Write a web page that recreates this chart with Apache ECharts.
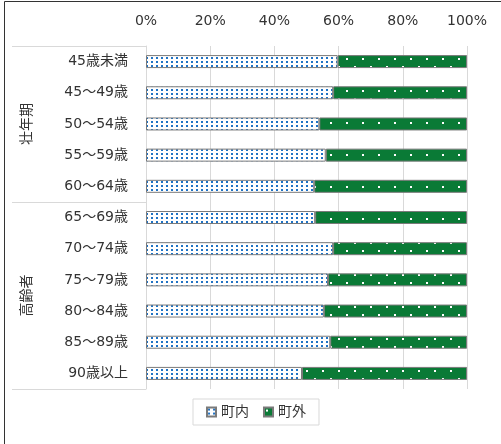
<!DOCTYPE html>
<html>
<head>
<meta charset="utf-8">
<script src="https://cdn.jsdelivr.net/npm/echarts@6/dist/echarts.min.js"></script>
<style>
html,body{margin:0;padding:0;background:#fff;}
#c{width:501px;height:444px;}
</style>
</head>
<body>
<div id="c"></div>
<script>
var categories = ['45歳未満','45～49歳','50～54歳','55～59歳','60～64歳','65～69歳','70～74歳','75～79歳','80～84歳','85～89歳','90歳以上'];
var groups = [{name:'壮年期', from:0, to:4},{name:'高齢者', from:5, to:10}];
var seriesNames = ['町内','町外'];
var inTown  = [59.7, 58.3, 54.0, 56.0, 52.4, 52.7, 58.3, 56.7, 55.4, 57.4, 48.6];
var outTown = [40.3, 41.7, 46.0, 44.0, 47.6, 47.3, 41.7, 43.3, 44.6, 42.6, 51.4];
var xTicks = [0, 20, 40, 60, 80, 100];

function makePattern(w, h, bg, fg, dots) {
  var cv = document.createElement('canvas');
  cv.width = w; cv.height = h;
  var ctx = cv.getContext('2d');
  ctx.fillStyle = bg; ctx.fillRect(0, 0, w, h);
  ctx.fillStyle = fg;
  dots.forEach(function (d) { ctx.fillRect(d[0], d[1], d[2], d[3]); });
  return {image: cv, repeat: 'repeat'};
}
var bluePat = makePattern(5, 4, '#ffffff', '#1f72c4', [[1, 1, 2, 2]]);
var greenPat = makePattern(16, 16, '#0a7a36', '#ffffff', [[2, 2, 2, 2], [10, 10, 2, 2]]);

var FONT = '"DejaVu Sans", "Noto Sans CJK JP", sans-serif';
var TXT = '#333333';
var LINE = '#d9d9d9';

var chart = echarts.init(document.getElementById('c'), null, {renderer: 'canvas'});
var option = {
  animation: false,
  backgroundColor: '#fff',
  textStyle: {fontFamily: FONT},
  grid: {left: 146, right: 34, top: 46, bottom: 55, containLabel: false},
  xAxis: {
    type: 'value', position: 'top', min: xTicks[0], max: xTicks[xTicks.length - 1], interval: 20,
    axisLine: {show: false}, axisTick: {show: false},
    axisLabel: {formatter: '{value}%', color: TXT, fontSize: 14, margin: 18, fontFamily: FONT},
    splitLine: {lineStyle: {color: LINE, width: 1}}
  },
  yAxis: {
    type: 'category', data: categories, inverse: true,
    axisLine: {show: true, lineStyle: {color: LINE}},
    axisTick: {show: false},
    axisLabel: {color: TXT, fontSize: 14, margin: 18, fontFamily: FONT}
  },
  legend: {
    data: seriesNames, bottom: 19, left: 193,
    itemWidth: 9, itemHeight: 9, itemGap: 14,
    borderColor: LINE, borderWidth: 1, padding: [6, 13, 6, 13],
    textStyle: {color: TXT, fontSize: 14, fontFamily: FONT}, icon: 'rect'
  },
  series: [
    {name: seriesNames[0], type: 'bar', stack: 't', data: inTown, barWidth: 13,
     itemStyle: {color: bluePat, borderColor: '#7a7a7a', borderWidth: 1}},
    {name: seriesNames[1], type: 'bar', stack: 't', data: outTown, barWidth: 13,
     itemStyle: {color: greenPat, borderColor: '#7a7a7a', borderWidth: 1}}
  ]
};
chart.setOption(option);

// decorative label-table lines and group labels
var band = chart.convertToPixel({yAxisIndex: 0}, categories[1]) - chart.convertToPixel({yAxisIndex: 0}, categories[0]);
var x0 = 12, x1 = 146;
var gfx = [];
var edges = [];
groups.forEach(function (g, i) {
  var top = chart.convertToPixel({yAxisIndex: 0}, categories[g.from]) - band / 2;
  var bot = chart.convertToPixel({yAxisIndex: 0}, categories[g.to]) + band / 2;
  if (i === 0) edges.push(top);
  edges.push(bot);
  gfx.push({type: 'text', x: 27, y: (top + bot) / 2, rotation: Math.PI / 2,
    style: {text: g.name, fill: TXT, font: '14px ' + FONT, textAlign: 'center', textVerticalAlign: 'middle'}});
});
edges.forEach(function (y) {
  y = Math.round(y) + 0.5;
  gfx.push({type: 'line', shape: {x1: x0, y1: y, x2: x1, y2: y}, style: {stroke: LINE, lineWidth: 1}});
});
// outer frame (top and left edges)
gfx.push({type: 'line', shape: {x1: 4.5, y1: 1.5, x2: 501, y2: 1.5}, style: {stroke: '#333', lineWidth: 1}});
gfx.push({type: 'line', shape: {x1: 4.5, y1: 1.5, x2: 4.5, y2: 444}, style: {stroke: '#333', lineWidth: 1}});
chart.setOption({graphic: gfx});
</script>
</body>
</html>
